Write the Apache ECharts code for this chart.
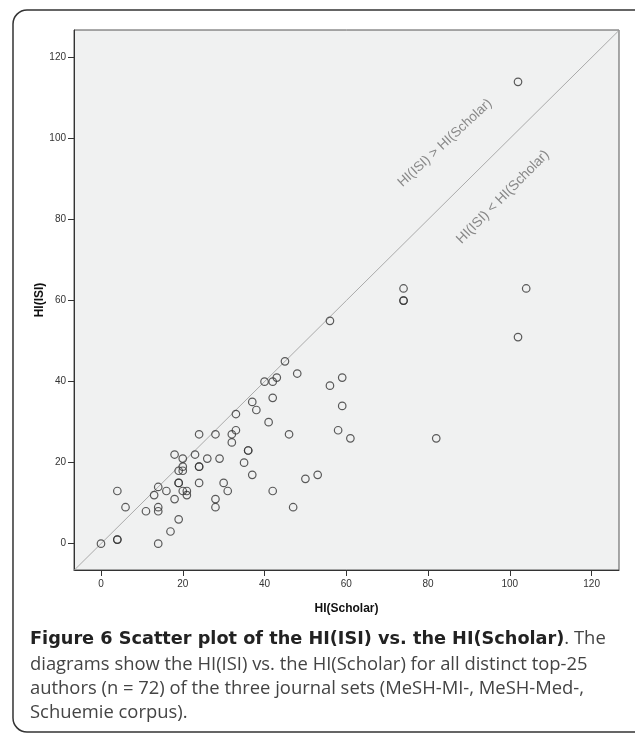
<!DOCTYPE html>
<html>
<head>
<meta charset="utf-8">
<script src="https://cdn.jsdelivr.net/npm/echarts@6/dist/echarts.min.js"></script>
<style>
html,body{margin:0;padding:0;background:#fff;overflow:hidden;}
#chart{width:635px;height:734px;}
</style>
</head>
<body>
<div id="chart"></div>
<script>
// ---- data ----
var hiScholar = [0,4,4,4,6,11,13,14,14,14,14,16,17,18,18,19,19,19,19,20,20,20,20,21,21,23,24,24,24,24,26,28,28,28,29,30,31,32,32,33,33,35,36,36,37,37,38,40,42,43,42,41,45,48,46,42,47,50,53,56,56,59,59,58,61,74,74,74,82,102,104,102];
var hiISI     = [0,1,1,13,9,8,12,14,9,8,0,13,3,11,22,6,15,15,18,18,19,21,13,12,13,22,27,19,19,15,21,27,11,9,21,15,13,27,25,28,32,20,23,23,17,35,33,40,40,41,36,30,45,42,27,13,9,16,17,55,39,41,34,28,26,63,60,60,26,114,63,51];
var tickValues = [0,20,40,60,80,100,120];
var xRange = [-6.6, 126.7];
var yRange = [-6.5, 126.8];
var xTitle = 'HI(Scholar)';
var yTitle = 'HI(ISI)';
var labelAbove = 'HI(ISI) > HI(Scholar)';
var labelBelow = 'HI(ISI) < HI(Scholar)';
var captionBold = 'Figure 6 Scatter plot of the HI(ISI) vs. the HI(Scholar)';
var captionRest = '. The';
var captionLines = [
  'diagrams show the HI(ISI) vs. the HI(Scholar) for all distinct top-25',
  'authors (n = 72) of the three journal sets (MeSH-MI-, MeSH-Med-,',
  'Schuemie corpus).'
];

var points = hiScholar.map(function (x, i) { return [x, hiISI[i]]; });
var diagonal = [[xRange[0], xRange[0]], [xRange[1], xRange[1]]];

var chart = echarts.init(document.getElementById('chart'), null, {renderer: 'canvas'});
var capFont = '"Open Sans", "Noto Sans", sans-serif';
var capBoldFont = '"DejaVu Sans", "Open Sans", sans-serif';
var axisFont = '"Liberation Sans", Arial, sans-serif';

var graphics = [
  {
    type: 'rect', z: 0, silent: true,
    shape: {x: 13, y: 10, width: 720, height: 722, r: 14},
    style: {fill: 'none', stroke: '#333', lineWidth: 1.5}
  },
  {
    type: 'text', z: 10, silent: true, x: 30, y: 639,
    style: {
      text: '{b|' + captionBold + '}{r|' + captionRest + '}',
      verticalAlign: 'middle',
      rich: {
        b: {fontFamily: capBoldFont, fontWeight: 'bold', fontSize: 17.7, fill: '#222'},
        r: {fontFamily: capFont, fontSize: 18.4, fill: '#444'}
      }
    }
  },
  {
    type: 'text', z: 10, silent: true, rotation: 0.745, x: 445, y: 143,
    style: {text: labelAbove, fontFamily: axisFont, fontSize: 13.5, fill: '#888', align: 'center', verticalAlign: 'middle'}
  },
  {
    type: 'text', z: 10, silent: true, rotation: 0.79, x: 503, y: 197,
    style: {text: labelBelow, fontFamily: axisFont, fontSize: 13.8, fill: '#888', align: 'center', verticalAlign: 'middle'}
  }
];
captionLines.forEach(function (t, i) {
  graphics.push({
    type: 'text', z: 10, silent: true, x: 30, y: 665 + i * 24,
    style: {text: t, fontFamily: capFont, fontSize: 18.4, fill: '#444', verticalAlign: 'middle'}
  });
});

var axisCommon = {
  type: 'value',
  splitLine: {show: false},
  axisLine: {show: true, onZero: false, lineStyle: {color: '#333', width: 1}},
  axisTick: {show: true, inside: false, length: 6, lineStyle: {color: '#333'}, customValues: tickValues},
  axisLabel: {color: '#333', fontFamily: axisFont, fontSize: 10, customValues: tickValues},
  nameLocation: 'middle',
  nameMoveOverlap: false,
  nameTextStyle: {fontFamily: axisFont, fontWeight: 'bold', fontSize: 12, color: '#111'}
};

chart.setOption({
  animation: false,
  backgroundColor: '#fff',
  grid: {left: 74, top: 30, right: 16, bottom: 164, show: true, backgroundColor: '#f0f1f1', borderColor: '#555', borderWidth: 1},
  xAxis: Object.assign({}, axisCommon, {
    min: xRange[0], max: xRange[1], name: xTitle, nameGap: 33,
    axisLabel: Object.assign({}, axisCommon.axisLabel, {margin: 9})
  }),
  yAxis: Object.assign({}, axisCommon, {
    min: yRange[0], max: yRange[1], name: yTitle, nameGap: 28,
    axisLabel: Object.assign({}, axisCommon.axisLabel, {margin: 8})
  }),
  graphic: graphics,
  series: [
    {
      type: 'line', data: diagonal, symbol: 'none', silent: true, z: 1,
      lineStyle: {color: '#aaa', width: 1}
    },
    {
      type: 'scatter', data: points, symbol: 'circle', symbolSize: 7.5, z: 3,
      itemStyle: {color: 'rgba(0,0,0,0)', borderColor: '#333', borderWidth: 1.2}
    }
  ]
});
</script>
</body>
</html>
